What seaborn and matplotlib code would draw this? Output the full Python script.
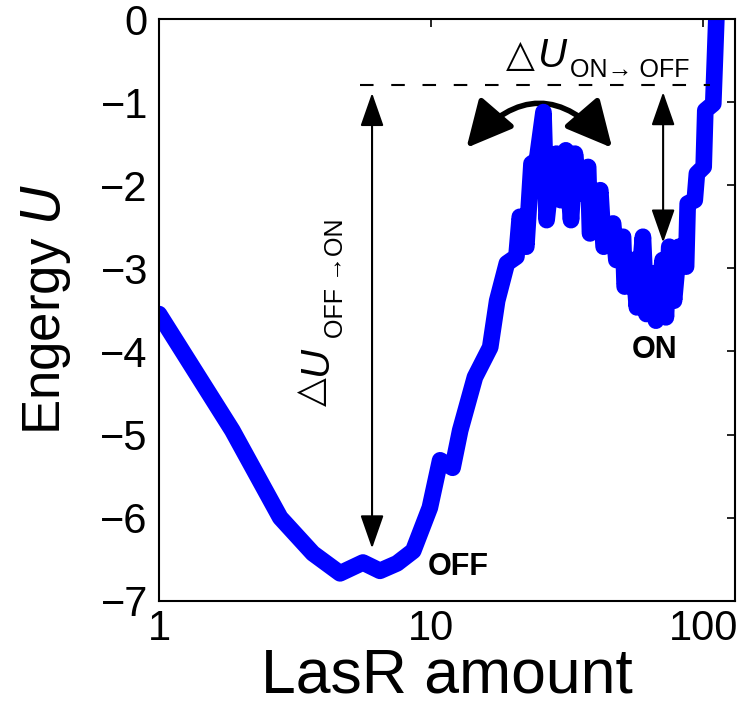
import numpy as np
import pandas as pd
import matplotlib
matplotlib.use("Agg")
import matplotlib.pyplot as plt
from matplotlib.patches import FancyArrowPatch
import seaborn as sns

# Energy landscape along the LasR amount axis
lasr_amount = [1.0, 1.86, 2.79, 3.68, 4.63, 5.62, 6.49, 7.5, 8.6, 9.9,
               10.8, 12.0, 12.8, 14.5, 16.5, 17.5, 19.0, 20.6, 21.2, 22.4,
               23.4, 24.5, 25.9, 26.6, 28.1, 28.9, 30.0, 31.3, 32.7, 33.8,
               35.2, 37.8, 38.4, 41.9, 43.1, 46.7, 48.0, 50.8, 51.5, 55.3,
               57.1, 60.1, 61.9, 65.3, 67.1, 71.0, 73.0, 75.1, 78.2, 81.5,
               86.6, 87.8, 93.2, 94.9, 100.5, 101.9, 109.0, 110.5, 113.0]
energy_u = [-3.55, -4.95, -6.0, -6.43, -6.67, -6.54, -6.64, -6.55, -6.4, -5.88,
            -5.31, -5.4, -4.95, -4.31, -3.95, -3.39, -2.94, -2.86, -2.38, -2.74,
            -1.74, -1.70, -1.12, -2.42, -1.70, -1.62, -2.18, -1.58, -2.42, -1.62,
            -2.10, -1.78, -2.58, -2.06, -2.74, -2.46, -2.90, -2.62, -3.22, -2.90,
            -3.47, -2.62, -3.55, -3.06, -3.63, -2.90, -3.59, -2.74, -3.39, -2.74,
            -2.98, -2.22, -2.18, -1.86, -1.78, -1.10, -1.02, -0.49, 0.4]

x_ticks = [1, 10, 100]
x_tick_labels = ["1", "10", "100"]
y_ticks = [0, -1, -2, -3, -4, -5, -6, -7]
y_tick_labels = ["0", "\u22121", "\u22122", "\u22123", "\u22124", "\u22125", "\u22126", "\u22127"]

barrier_level = -0.8              # dashed reference level
off_arrow = (6.07, -0.89, -6.37)  # x, top, bottom
on_arrow = (71.3, -0.88, -2.69)

sns.set_style("white")
plt.rcParams["font.family"] = ["Liberation Sans", "DejaVu Sans"]
plt.rcParams["text.color"] = "black"
plt.rcParams["axes.labelcolor"] = "black"
plt.rcParams["xtick.color"] = "black"
plt.rcParams["ytick.color"] = "black"

df = pd.DataFrame({"LasR": lasr_amount, "U": energy_u})

fig = plt.figure(figsize=(7.56, 7.23), dpi=100)
ax = fig.add_axes([0.2103, 0.1691, 0.7619, 0.8046])

sns.lineplot(data=df, x="LasR", y="U", ax=ax, color="#0000ff", lw=12,
             estimator=None, sort=False,
             solid_joinstyle="round", solid_capstyle="round")

ax.set_xscale("log")
ax.set_xlim(1, 131)
ax.set_ylim(-7, 0)
ax.set_xticks(x_ticks)
ax.set_xticklabels(x_tick_labels, fontsize=30)
ax.minorticks_off()
ax.set_yticks(y_ticks)
ax.set_yticklabels(y_tick_labels, fontsize=30)
ax.tick_params(which="both", direction="in", top=True, right=True,
               length=6, width=1.2, pad=8)
ax.tick_params(axis="x", pad=6)
for s in ax.spines.values():
    s.set_visible(True)
    s.set_color("black")
    s.set_linewidth(1.5)

ax.set_xlabel("LasR amount", fontsize=45, labelpad=-2)
ax.set_ylabel("Engergy $\\it{U}$", fontsize=38, labelpad=20)

# dashed barrier level
ax.plot([5.48, 106], [barrier_level, barrier_level], color="black", lw=1.5,
        linestyle=(0, (6.5, 8.5)))

# vertical double arrows for the two barrier heights
arrow_kw = dict(arrowstyle="<|-|>,head_length=0.4,head_width=0.14",
                color="black", lw=1.5, mutation_scale=52,
                shrinkA=0, shrinkB=0)
for xa, ytop, ybot in (off_arrow, on_arrow):
    ax.add_patch(FancyArrowPatch((xa, ytop), (xa, ybot), **arrow_kw))

# curved double arrow above the peak
ax.add_patch(FancyArrowPatch((13.5, -1.55), (46.3, -1.55),
                             connectionstyle="arc3,rad=-0.58",
                             arrowstyle="<|-|>,head_length=0.6,head_width=0.3",
                             color="black", lw=4, mutation_scale=47,
                             shrinkA=0, shrinkB=0))

ax.text(66.6, -3.98, "ON", fontsize=22, fontweight="bold",
        ha="center", va="center")
ax.text(12.6, -6.6, "OFF", fontsize=22, fontweight="bold",
        ha="center", va="center")

# barrier labels, built from triangle, italic U and subscript
tri_kw = dict(family=["DejaVu Sans"], fontsize=27, ha="left", va="baseline",
              rotation_mode="anchor")
u_kw = dict(family=["Liberation Sans"], style="italic", fontsize=29,
            ha="left", va="baseline", rotation_mode="anchor")
sub_kw = dict(family=["Liberation Sans", "DejaVu Sans"], fontsize=18,
              ha="left", va="baseline", rotation_mode="anchor")

ax.text(18.9, -0.57, "\u25b3", **tri_kw)
ax.text(24.7, -0.58, "U", **u_kw)
ax.text(32.4, -0.70, "ON\u2192 OFF", **sub_kw)

ax.text(3.98, -4.66, "\u25b3", rotation=90, **tri_kw)
ax.text(4.15, -4.28, "U", rotation=90, **u_kw)
ax.text(4.75, -3.84, "OFF \u2192ON", rotation=90, **sub_kw)

fig.savefig("out.png", dpi=100)
